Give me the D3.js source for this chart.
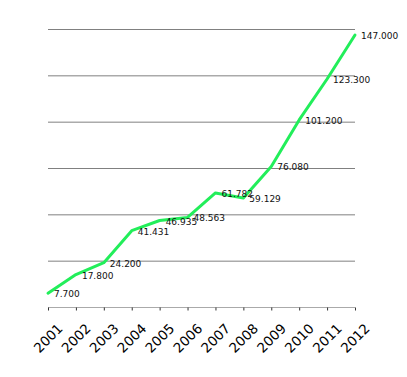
<!DOCTYPE html>
<html>
<head>
<meta charset="utf-8">
<script src="https://cdn.jsdelivr.net/npm/d3@7"></script>
<style>
  body { margin: 0; background: #fff; }
  svg { display: block; }
</style>
</head>
<body>
<div id="chart"></div>
<script>
// Data
const years = ["2001", "2002", "2003", "2004", "2005", "2006", "2007", "2008", "2009", "2010", "2011", "2012"];
const values = [7.7, 17.8, 24.2, 41.431, 46.935, 48.563, 61.782, 59.129, 76.08, 101.2, 123.3, 147.0];
const labels = ["7.700", "17.800", "24.200", "41.431", "46.935", "48.563", "61.782", "59.129", "76.080", "101.200", "123.300", "147.000"];
const gridValues = [0, 25, 50, 75, 100, 125, 150];

const width = 407;
const height = 377;

const svg = d3.select("#chart")
    .append("svg")
    .attr("width", width)
    .attr("height", height);

const x = d3.scalePoint()
    .domain(years)
    .range([48, 355]);

const y = d3.scaleLinear()
    .domain([0, 150])
    .range([307.5, 29.5]);

// Horizontal grid lines
svg.append("g")
    .selectAll("line")
    .data(gridValues.slice(1))
    .join("line")
    .attr("x1", 48)
    .attr("x2", 355)
    .attr("y1", d => y(d))
    .attr("y2", d => y(d))
    .attr("stroke", "#808080")
    .attr("stroke-width", 1);

// Bottom axis with small ticks
const xAxis = svg.append("g")
    .attr("transform", `translate(0,${y(0)})`)
    .call(d3.axisBottom(x).tickSize(3).tickFormat(""));

xAxis.select(".domain")
    .attr("stroke", "#aaa")
    .attr("d", "M48,0H355");
xAxis.selectAll(".tick line")
    .attr("stroke", "#333");

// Rotated year labels
svg.append("g")
    .selectAll("text")
    .data(years)
    .join("text")
    .attr("transform", d => `translate(${x(d)},338) rotate(-45)`)
    .attr("text-anchor", "middle")
    .attr("dominant-baseline", "central")
    .attr("font-family", "DejaVu Sans")
    .attr("font-size", "13.5px")
    .attr("fill", "#000")
    .text(d => d);

// The green line
const line = d3.line()
    .x((d, i) => x(years[i]))
    .y(d => y(d));

svg.append("path")
    .datum(values)
    .attr("fill", "none")
    .attr("stroke", "#22ee5a")
    .attr("stroke-width", 3)
    .attr("stroke-linejoin", "round")
    .attr("stroke-linecap", "round")
    .attr("d", line);

// Value labels
svg.append("g")
    .selectAll("text")
    .data(values)
    .join("text")
    .attr("x", (d, i) => x(years[i]) + 6)
    .attr("y", d => y(d) + 4)
    .attr("font-family", "DejaVu Sans")
    .attr("font-size", "9px")
    .attr("fill", "#111")
    .text((d, i) => labels[i]);
</script>
</body>
</html>
